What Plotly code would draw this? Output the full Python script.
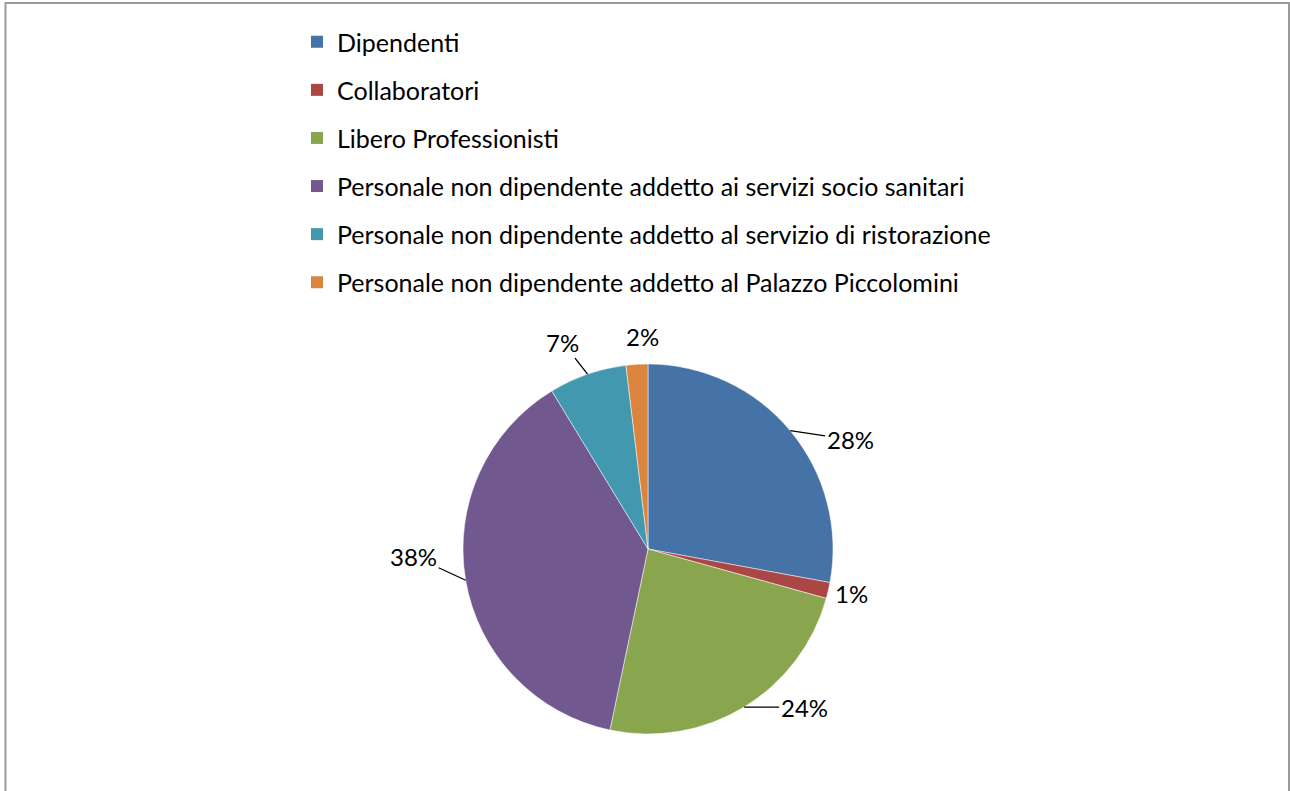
import math
import plotly.graph_objects as go

categories = [
    "Dipendenti",
    "Collaboratori",
    "Libero Professionisti",
    "Personale non dipendente addetto ai servizi socio sanitari",
    "Personale non dipendente addetto al servizio di ristorazione",
    "Personale non dipendente addetto al Palazzo Piccolomini",
]
values = [27.9, 1.4, 24.0, 38.0, 6.8, 1.9]
colors = ["#4572A7", "#AA4643", "#89A54E", "#71588F", "#4198AF", "#DB843D"]

# label placement style (pixel offsets of label from slice edge midpoint) and leader flag
label_offsets = [(60, 9), (23, 3), (60, 0), (-52, -24), (-25, -32), (6, -28)]
label_leader = [True, False, True, True, True, False]

W, H = 1290, 791
cx, cy, r = 648, 549, 185
FONT = "Lato"
FS_LEG = 25
FS_LAB = 24

fig = go.Figure()
fig.add_trace(go.Pie(
    labels=categories,
    values=values,
    sort=False,
    direction="clockwise",
    rotation=0,
    marker=dict(colors=colors, line=dict(color="white", width=0.5)),
    textinfo="none",
    textposition="none",
    showlegend=False,
    domain=dict(x=[(cx - r) / W, (cx + r) / W], y=[1 - (cy + r) / H, 1 - (cy - r) / H]),
    hoverinfo="label+percent",
))

for i, (name, col) in enumerate(zip(categories, colors)):
    fig.add_trace(go.Scatter(
        x=[None], y=[None], mode="markers", name=name,
        marker=dict(symbol="square", size=13, color=col),
        legendgroup=str(i), showlegend=True,
    ))

total = sum(values)
annotations = []
cum = 0.0
for v, (dx, dy), lead in zip(values, label_offsets, label_leader):
    theta = 2 * math.pi * (cum + v / 2) / total
    cum += v
    ex = cx + r * math.sin(theta)
    ey = cy - r * math.cos(theta)
    txt = f"{round(100 * v / total)}%"
    if lead:
        annotations.append(dict(
            x=ex / W, y=1 - ey / H, xref="paper", yref="paper",
            text=txt, showarrow=True, arrowhead=0, arrowwidth=1.3, arrowcolor="#000",
            ax=dx, ay=dy, standoff=0,
            font=dict(family=FONT, size=FS_LAB, color="#000"),
        ))
    else:
        annotations.append(dict(
            x=(ex + dx) / W, y=1 - (ey + dy) / H, xref="paper", yref="paper",
            xanchor="center", yanchor="middle",
            text=txt, showarrow=False,
            font=dict(family=FONT, size=FS_LAB, color="#000"),
        ))

fig.update_layout(
    width=W, height=H,
    margin=dict(l=0, r=0, t=0, b=0),
    paper_bgcolor="white", plot_bgcolor="white",
    xaxis=dict(visible=False), yaxis=dict(visible=False),
    legend=dict(
        x=297 / W, y=1 - 19 / H, xanchor="left", yanchor="top",
        font=dict(family=FONT, size=FS_LEG, color="#000"),
        tracegroupgap=12.6, itemsizing="constant", itemwidth=30,
        bgcolor="rgba(0,0,0,0)",
    ),
    annotations=annotations,
    shapes=[dict(type="rect", xref="paper", yref="paper",
                 x0=5.5 / W, x1=1289 / W, y0=-0.05, y1=1 - 3 / H,
                 line=dict(color="#9a9a9a", width=2))],
)

fig.write_html("out.html")
